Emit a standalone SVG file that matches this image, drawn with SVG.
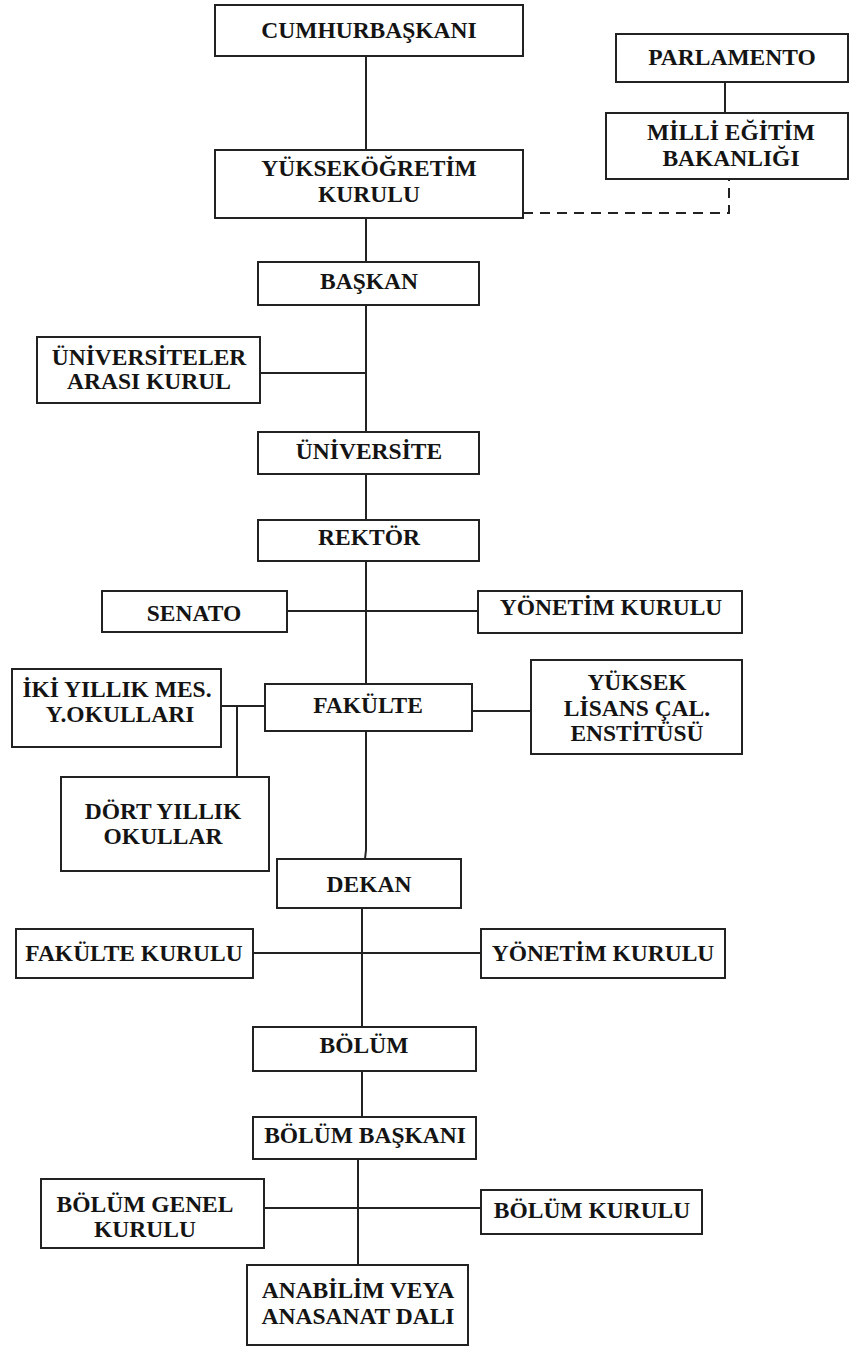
<svg xmlns="http://www.w3.org/2000/svg" width="850" height="1346" viewBox="0 0 850 1346">
  <style>
    .box { fill: #ffffff; stroke: #222222; stroke-width: 2; }
    .lbl { font-family: "Liberation Serif", "Times New Roman", serif; font-weight: bold; font-size: 23.5px; fill: #141414; text-anchor: middle; }
    .wire { fill: none; stroke: #222222; stroke-width: 2; }
    .dash { fill: none; stroke: #222222; stroke-width: 2; stroke-dasharray: 10 7; }
  </style>
  <rect width="850" height="1346" fill="#ffffff"/>

  <!-- connectors -->
  <g id="connectors">
    <line class="wire" x1="366" y1="56" x2="366" y2="150"/>
    <line class="wire" x1="725" y1="82" x2="725" y2="113"/>
    <polyline class="dash" points="523,213 729,213 729,179"/>
    <line class="wire" x1="366" y1="218" x2="366" y2="262"/>
    <line class="wire" x1="366" y1="305" x2="366" y2="432"/>
    <line class="wire" x1="260" y1="373" x2="366" y2="373"/>
    <line class="wire" x1="366" y1="474" x2="366" y2="520"/>
    <line class="wire" x1="366" y1="561" x2="366" y2="684"/>
    <line class="wire" x1="287" y1="611" x2="478" y2="611"/>
    <line class="wire" x1="221" y1="706" x2="265" y2="706"/>
    <line class="wire" x1="237" y1="706" x2="237" y2="777"/>
    <line class="wire" x1="472" y1="711" x2="531" y2="711"/>
    <polyline class="wire" points="366,731 366,850 365,859"/>
    <line class="wire" x1="362" y1="908" x2="362" y2="1027"/>
    <line class="wire" x1="253" y1="953" x2="481" y2="953"/>
    <line class="wire" x1="362" y1="1071" x2="362" y2="1117"/>
    <line class="wire" x1="358" y1="1159" x2="358" y2="1265"/>
    <line class="wire" x1="264" y1="1208" x2="481" y2="1208"/>
  </g>

  <g id="cumhurbaskani">
    <rect class="box" x="215" y="5" width="308" height="51"/>
    <text class="lbl" x="369" y="38">CUMHURBAŞKANI</text>
  </g>
  <g id="parlamento">
    <rect class="box" x="616" y="34" width="232" height="48"/>
    <text class="lbl" x="732" y="65">PARLAMENTO</text>
  </g>
  <g id="meb">
    <rect class="box" x="606" y="113" width="242" height="66"/>
    <text class="lbl" x="731" y="140">MİLLİ EĞİTİM</text>
    <text class="lbl" x="731" y="166">BAKANLIĞI</text>
  </g>
  <g id="yok">
    <rect class="box" x="215" y="150" width="308" height="68"/>
    <text class="lbl" x="369" y="176">YÜKSEKÖĞRETİM</text>
    <text class="lbl" x="369" y="202">KURULU</text>
  </g>
  <g id="baskan">
    <rect class="box" x="258" y="262" width="221" height="43"/>
    <text class="lbl" x="369" y="289">BAŞKAN</text>
  </g>
  <g id="uak">
    <rect class="box" x="37" y="337" width="223" height="66"/>
    <text class="lbl" x="149" y="365">ÜNİVERSİTELER</text>
    <text class="lbl" x="149" y="389">ARASI KURUL</text>
  </g>
  <g id="universite">
    <rect class="box" x="258" y="432" width="221" height="42"/>
    <text class="lbl" x="369" y="459">ÜNİVERSİTE</text>
  </g>
  <g id="rektor">
    <rect class="box" x="258" y="520" width="221" height="41"/>
    <text class="lbl" x="369" y="545">REKTÖR</text>
  </g>
  <g id="senato">
    <rect class="box" x="102" y="591" width="185" height="41"/>
    <text class="lbl" x="194" y="621">SENATO</text>
  </g>
  <g id="yonetim1">
    <rect class="box" x="478" y="591" width="264" height="42"/>
    <text class="lbl" x="611" y="615">YÖNETİM KURULU</text>
  </g>
  <g id="iki-yillik">
    <rect class="box" x="12" y="669" width="209" height="78"/>
    <text class="lbl" x="117" y="697">İKİ YILLIK MES.</text>
    <text class="lbl" x="120" y="722">Y.OKULLARI</text>
  </g>
  <g id="fakulte">
    <rect class="box" x="265" y="684" width="207" height="47"/>
    <text class="lbl" x="368" y="713">FAKÜLTE</text>
  </g>
  <g id="yuksek-lisans">
    <rect class="box" x="531" y="660" width="211" height="94"/>
    <text class="lbl" x="637" y="690">YÜKSEK</text>
    <text class="lbl" x="637" y="716">LİSANS ÇAL.</text>
    <text class="lbl" x="637" y="741">ENSTİTÜSÜ</text>
  </g>
  <g id="dort-yillik">
    <rect class="box" x="61" y="777" width="208" height="94"/>
    <text class="lbl" x="163" y="819">DÖRT YILLIK</text>
    <text class="lbl" x="163" y="844">OKULLAR</text>
  </g>
  <g id="dekan">
    <rect class="box" x="277" y="859" width="184" height="49"/>
    <text class="lbl" x="369" y="892">DEKAN</text>
  </g>
  <g id="fakulte-kurulu">
    <rect class="box" x="16" y="929" width="237" height="49"/>
    <text class="lbl" x="134" y="961">FAKÜLTE KURULU</text>
  </g>
  <g id="yonetim2">
    <rect class="box" x="481" y="929" width="244" height="49"/>
    <text class="lbl" x="603" y="961">YÖNETİM KURULU</text>
  </g>
  <g id="bolum">
    <rect class="box" x="253" y="1027" width="223" height="44"/>
    <text class="lbl" x="364" y="1053">BÖLÜM</text>
  </g>
  <g id="bolum-baskani">
    <rect class="box" x="253" y="1117" width="223" height="42"/>
    <text class="lbl" x="365" y="1143">BÖLÜM BAŞKANI</text>
  </g>
  <g id="bolum-genel">
    <rect class="box" x="41" y="1179" width="223" height="69"/>
    <text class="lbl" x="145" y="1212">BÖLÜM GENEL</text>
    <text class="lbl" x="145" y="1237">KURULU</text>
  </g>
  <g id="bolum-kurulu">
    <rect class="box" x="481" y="1190" width="221" height="44"/>
    <text class="lbl" x="592" y="1218">BÖLÜM KURULU</text>
  </g>
  <g id="anabilim">
    <rect class="box" x="247" y="1265" width="221" height="80"/>
    <text class="lbl" x="358" y="1298">ANABİLİM VEYA</text>
    <text class="lbl" x="358" y="1324">ANASANAT DALI</text>
  </g>
</svg>
